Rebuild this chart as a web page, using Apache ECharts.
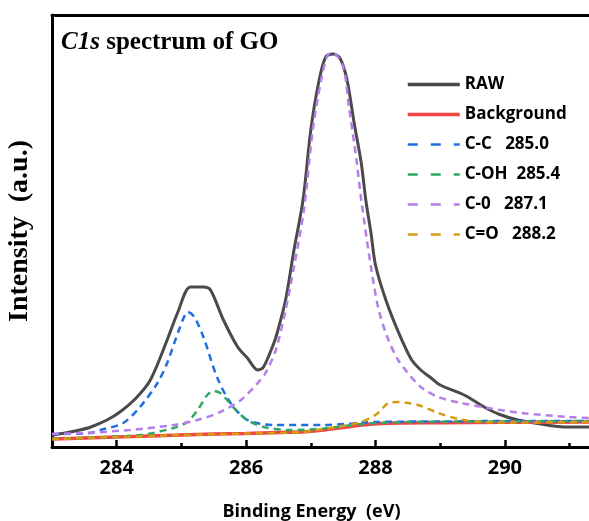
<!DOCTYPE html>
<html lang="en">
<head>
<meta charset="UTF-8">
<title>C1s spectrum of GO</title>
<script src="https://cdn.jsdelivr.net/npm/echarts@6/dist/echarts.min.js"></script>
<style>
  html,body{margin:0;padding:0;background:#fff;}
  #main{width:589px;height:521px;}
</style>
</head>
<body>
<div id="main"></div>
<script>
// binding energy (eV) / intensity (a.u.)
var rawE = [283.0,283.2,283.43,283.6,283.85,284.05,284.3,284.52,284.78,284.94,285.14,285.34,285.45,285.65,285.87,286.02,286.18,286.27,286.43,286.48,286.61,286.74,286.88,287.0,287.12,287.23,287.34,287.45,287.56,287.67,287.78,287.85,287.93,288.0,288.16,288.36,288.55,288.7,288.86,289.0,289.37,289.68,289.9,290.2,290.46,290.92,291.3];
var rawI = [12,14,17,20,27,35,49,67,107,134,160,160,157,127,100,89,77,80,104,114,147,197,247,317,364,390,393,389,367,324,284,247,214,182,147,114,88,77,69,62,52,40,33,27,24,20,20];

var bgE = [283.0,283.5,284.0,284.5,285.0,285.5,286.0,286.5,286.85,287.2,287.5,287.8,288.1,288.5,289.0,290.0,291.3];
var bgI = [8,9,10,11,12,13,13.5,14.5,15,17,19.5,22,23.5,24,24.3,24.7,25];

var ccE = [283.0,283.6,283.75,284.1,284.36,284.63,284.78,284.98,285.1,285.2,285.34,285.55,285.76,286.02,286.43,287.2,288.0,289.0,290.0,291.3];
var ccI = [13,14,17,24,40,64,84,120,135,130,110,70,44,27,22,22,25,25.5,26,26];

var cohE = [283.0,284.36,284.88,285.09,285.25,285.4,285.5,285.6,285.68,285.87,286.02,286.27,286.69,287.2,287.8,288.5,290.0,291.3];
var cohI = [8,12,19,25,37,52,56,54,49,35,27,20,17,18.5,23,25,25.5,26];

var coE = [283.0,283.5,284.2,284.88,285.25,285.6,285.92,286.18,286.3,286.46,286.61,286.74,286.9,287.03,287.16,287.26,287.34,287.5,287.59,287.7,287.78,287.93,288.05,288.2,288.35,288.5,288.7,288.97,289.33,289.74,290.26,290.98,291.3];
var coI = [13,14,17,22,27,35,47,64,74,97,137,180,240,317,367,392,394,380,340,290,247,180,137,107,87,74,60,50,44,39,34,30,29];

var cdoE = [283.0,284.0,285.0,286.0,286.85,287.4,287.78,288.04,288.2,288.35,288.5,288.66,288.97,289.28,289.64,290.2,291.3];
var cdoI = [8,10,12,13.5,15,20,25,34,44,45,44,42,34,28,25,24.5,25];

var names = ['RAW','Background','C-C   285.0','C-OH  285.4','C-0   287.1','C=O   288.2'];
var colors = ['#4a4a4a','#f44545','#1f6fe0','#2ea864','#b57ee8','#d49c14'];
var majorTicks = [284,286,288,290];
var minorTicks = [285,287,289,291];

function pairs(xs, ys){
    var out=[];
    for(var i=0;i<xs.length;i++){ out.push([xs[i],ys[i]]); }
    return out;
}

var curves = [[rawE,rawI],[bgE,bgI],[ccE,ccI],[cohE,cohI],[coE,coI],[cdoE,cdoI]];
var series = [];
for(var i=0;i<curves.length;i++){
    var solid = i<2;
    series.push({
        name:names[i],
        type:'line',
        xAxisIndex:0,
        data:pairs(curves[i][0],curves[i][1]),
        symbol:'none',
        smooth:0.3,
        z:2+i,
        lineStyle:{
            color:colors[i],
            width: i===0 ? 3 : (i===1 ? 3.5 : 2.5),
            type: solid ? 'solid' : [7,5]
        },
        itemStyle:{color:colors[i]}
    });
}

var legendData = [];
for(var j=0;j<names.length;j++){
    legendData.push({
        name:names[j],
        lineStyle:{ type: j<2 ? 'solid' : [10,13], width: j<2 ? 3.5 : 2.5 }
    });
}

var myChart = echarts.init(document.getElementById('main'));
var option = {
    backgroundColor:'#fff',
    animation:false,
    title:{
        text:'{i|C1s} spectrum of GO',
        left:61,
        top:30,
        padding:0,
        textStyle:{
            fontFamily:'Liberation Serif',
            fontWeight:'bold',
            fontSize:25,
            color:'#000',
            rich:{
                i:{fontFamily:'Liberation Serif',fontWeight:'bold',fontStyle:'italic',fontSize:25,color:'#000'}
            }
        }
    },
    legend:{
        orient:'vertical',
        left:406,
        top:76,
        padding:0,
        itemWidth:52,
        itemHeight:14,
        itemGap:13,
        itemStyle:{opacity:0},
        data:legendData,
        textStyle:{fontFamily:'Open Sans',fontWeight:'bold',fontSize:17,color:'#000'}
    },
    grid:{left:52,top:15,right:0,bottom:74,containLabel:false,outerBoundsMode:'none'},
    xAxis:[{
        type:'value',
        position:'bottom',
        min:283,
        max:291.3,
        name:'Binding Energy  (eV)',
        nameLocation:'middle',
        nameGap:56,
        nameTextStyle:{fontFamily:'Open Sans',fontWeight:'bold',fontSize:18,color:'#000',padding:[0,18,0,0]},
        axisLine:{lineStyle:{color:'#000',width:3}},
        axisTick:{inside:true,length:7,lineStyle:{color:'#000',width:2.5},customValues:majorTicks},
        axisLabel:{customValues:majorTicks,margin:11,fontFamily:'Open Sans',fontWeight:'bold',fontSize:20,color:'#000'},
        splitLine:{show:false}
    },{
        type:'value',
        position:'bottom',
        min:283,
        max:291.3,
        axisLine:{show:false},
        axisTick:{inside:true,length:4,lineStyle:{color:'#000',width:2.5},customValues:minorTicks},
        axisLabel:{show:false},
        splitLine:{show:false}
    },{
        type:'value',
        position:'top',
        min:283,
        max:291.3,
        axisLine:{lineStyle:{color:'#000',width:3}},
        axisTick:{show:false},
        axisLabel:{show:false},
        splitLine:{show:false}
    }],
    yAxis:{
        type:'value',
        min:0,
        max:432,
        name:'Intensity  (a.u.)',
        nameLocation:'middle',
        nameGap:18,
        nameTextStyle:{fontFamily:'Liberation Serif',fontWeight:'bold',fontSize:28,color:'#000'},
        axisLine:{show:true,lineStyle:{color:'#000',width:3}},
        axisTick:{show:false},
        axisLabel:{show:false},
        splitLine:{show:false}
    },
    series:series
};
myChart.setOption(option);
</script>
</body>
</html>
